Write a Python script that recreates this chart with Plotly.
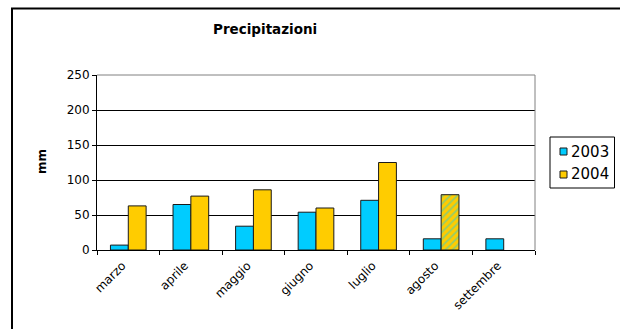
import plotly.graph_objects as go

W, H = 620, 329

months = ["marzo", "aprile", "maggio", "giugno", "luglio", "agosto", "settembre"]
y2003 = [7, 65, 34, 54, 71, 16, 16]
y2004 = [63, 77, 86, 60, 125, 79, None]
pattern2004 = ["", "", "", "", "", "/", ""]
series_names = ["2003", "2004"]

FONT = "DejaVu Sans, Liberation Sans, Arial, sans-serif"
C2003 = "#00CCFF"
C2004 = "#FFCC00"
EDGE = "#1a1a1a"

def px_x(p):
    return p / W

def px_y(p):
    return 1 - p / H

fig = go.Figure()
fig.add_trace(go.Bar(
    x=months, y=y2003, name=series_names[0],
    marker=dict(color=C2003, line=dict(color=EDGE, width=1)),
))
fig.add_trace(go.Bar(
    x=months, y=y2004, name=series_names[1],
    marker=dict(
        color=C2004, line=dict(color=EDGE, width=1),
        pattern=dict(shape=pattern2004, fgcolor="#33CCCC", bgcolor=C2004,
                     size=5, solidity=0.35),
    ),
))

x0, x1 = px_x(97), px_x(535)
y0, y1 = px_y(250), px_y(75)

shapes = [
    # outer chart frame (cropped at right and bottom)
    dict(type="rect", xref="paper", yref="paper",
         x0=px_x(12), x1=1.05, y0=-0.05, y1=px_y(8.5),
         line=dict(color="black", width=2), layer="below"),
    # plot area border, top and right in grey
    dict(type="line", xref="paper", yref="paper",
         x0=x0, x1=x1, y0=y1, y1=y1,
         line=dict(color="#808080", width=1), layer="above"),
    dict(type="line", xref="paper", yref="paper",
         x0=x1, x1=x1, y0=y0, y1=y1,
         line=dict(color="#808080", width=1), layer="above"),
    # legend box
    dict(type="rect", xref="paper", yref="paper",
         x0=px_x(550), x1=px_x(614.5), y0=px_y(188), y1=px_y(137),
         line=dict(color="black", width=1), fillcolor="white", layer="above"),
]

annotations = [
    dict(text="<b>Precipitazioni</b>", xref="paper", yref="paper",
         x=px_x(265), y=px_y(29), xanchor="center", yanchor="middle",
         showarrow=False, font=dict(size=13.5, family=FONT)),
    dict(text="<b>mm</b>", xref="paper", yref="paper",
         x=px_x(42), y=px_y(162), xanchor="center", yanchor="middle",
         showarrow=False, textangle=-90,
         font=dict(size=12, family=FONT)),
]

# legend entries (manual, to match the compact original legend)
for name, col, cy in zip(series_names, [C2003, C2004], [151.5, 174.5]):
    shapes.append(dict(type="rect", xref="paper", yref="paper",
                       x0=px_x(560), x1=px_x(567), y0=px_y(cy + 3.5), y1=px_y(cy - 3.5),
                       line=dict(color=EDGE, width=1), fillcolor=col, layer="above"))
    annotations.append(dict(text=name, xref="paper", yref="paper",
                            x=px_x(569), y=px_y(cy), xanchor="left", yanchor="middle",
                            showarrow=False, font=dict(size=15, family=FONT)))

fig.update_layout(
    width=W, height=H, autosize=False,
    margin=dict(l=0, r=0, t=0, b=0, pad=0, autoexpand=False),
    paper_bgcolor="white", plot_bgcolor="white",
    font=dict(family=FONT, color="black", size=12),
    barmode="group", bargap=0.43, bargroupgap=0,
    showlegend=False,
    xaxis=dict(
        domain=[x0, x1], type="category", automargin=False,
        showline=True, linecolor="black", linewidth=1,
        ticks="outside", tickson="boundaries", ticklen=4, tickcolor="black",
        tickangle=-45, tickfont=dict(size=12),
        ticklabelshift=-6, ticklabelstandoff=3,
        showgrid=False,
    ),
    yaxis=dict(
        domain=[y0, y1], range=[0, 250], dtick=50, automargin=False,
        showline=True, linecolor="black", linewidth=1,
        ticks="outside", ticklen=4, tickcolor="black",
        showgrid=True, gridcolor="black", gridwidth=1,
        zeroline=False, tickfont=dict(size=12),
    ),
    shapes=shapes,
    annotations=annotations,
)

fig.write_html("out.html")
